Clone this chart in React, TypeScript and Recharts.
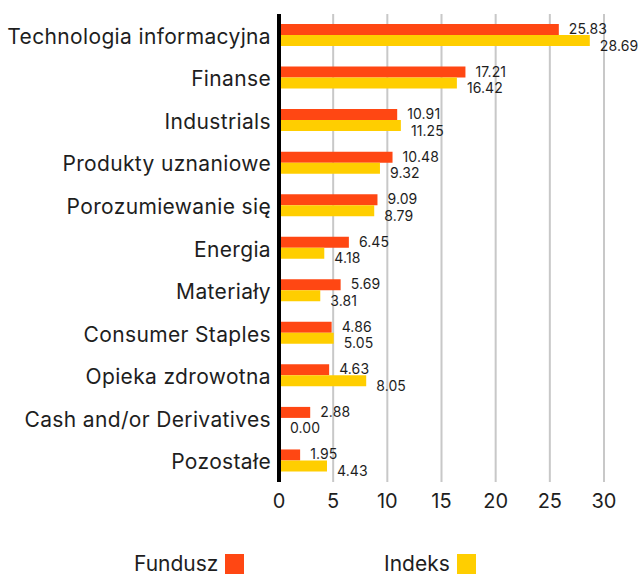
import React from 'react';
import { BarChart, Bar, XAxis, YAxis, CartesianGrid, LabelList, Legend } from 'recharts';

const categories = [
  'Technologia informacyjna',
  'Finanse',
  'Industrials',
  'Produkty uznaniowe',
  'Porozumiewanie się',
  'Energia',
  'Materiały',
  'Consumer Staples',
  'Opieka zdrowotna',
  'Cash and/or Derivatives',
  'Pozostałe',
];
const fundusz = [25.83, 17.21, 10.91, 10.48, 9.09, 6.45, 5.69, 4.86, 4.63, 2.88, 1.95];
const indeks = [28.69, 16.42, 11.25, 9.32, 8.79, 4.18, 3.81, 5.05, 8.05, 0.0, 4.43];
const xTicks = [0, 5, 10, 15, 20, 25, 30];

const ORANGE = '#FF4713';
const YELLOW = '#FFCE00';
const FONT = 'Inter, sans-serif';
const TEXT = '#1e1e1e';

const data = categories.map((name, i) => ({ name, fundusz: fundusz[i], indeks: indeks[i] }));

const makeLabel = (dyOffset: number) => (props: any) => {
  const { x, y, width, height, value } = props;
  return (
    <text
      x={Number(x) + Number(width) + 10}
      y={Number(y) + Number(height) / 2 + dyOffset}
      fontSize={14}
      fontFamily={FONT}
      fill={TEXT}
      letterSpacing={0.1}
      textAnchor="start"
      dominantBaseline="central"
    >
      {Number(value).toFixed(2)}
    </text>
  );
};

const CategoryTick = (props: any) => {
  const { x, y, payload } = props;
  return (
    <text
      x={x}
      y={Number(y) + 8.5}
      textAnchor="end"
      fontSize={21}
      fontFamily={FONT}
      fill={TEXT}
      letterSpacing={0.35}
    >
      {payload.value}
    </text>
  );
};

const legendItems = [
  { label: 'Fundusz', color: ORANGE, left: 134 },
  { label: 'Indeks', color: YELLOW, left: 384 },
];

const renderLegend = () => (
  <div style={{ position: 'relative', width: 639, height: 24 }}>
    {legendItems.map((it) => (
      <div
        key={it.label}
        style={{
          position: 'absolute',
          left: it.left,
          top: 0,
          display: 'flex',
          alignItems: 'flex-end',
          fontFamily: FONT,
          fontSize: 21,
          color: TEXT,
          lineHeight: '21px',
        }}
      >
        <span>{it.label}</span>
        <span style={{ display: 'inline-block', width: 19, height: 20, background: it.color, marginLeft: 7 }} />
      </div>
    ))}
  </div>
);

export default function App() {
  return (
    <div style={{ position: 'absolute', left: 0, top: 0, width: 639, height: 579, background: '#fff' }}>
      <BarChart
        width={639}
        height={579}
        data={data}
        layout="vertical"
        margin={{ top: 14, right: 35, left: 8, bottom: 67 }}
        barGap={0}
      >
        <CartesianGrid horizontal={false} stroke="#c8c8c8" strokeWidth={2} />
        <XAxis
          type="number"
          domain={[0, 30]}
          ticks={xTicks}
          axisLine={false}
          tickLine={false}
          tickMargin={6}
          height={30}
          tick={{ fontSize: 20, fontFamily: FONT, fill: TEXT }}
          interval={0}
        />
        <YAxis
          type="category"
          dataKey="name"
          width={271}
          axisLine={{ stroke: '#000', strokeWidth: 4 }}
          tickLine={false}
          tick={<CategoryTick />}
          interval={0}
        />
        <Legend
          layout="horizontal"
          verticalAlign="middle"
          align="center"
          wrapperStyle={{ top: 553, left: 0, width: 639 }}
          content={renderLegend}
        />
        <Bar dataKey="fundusz" name="Fundusz" fill={ORANGE} barSize={11} isAnimationActive={false}>
          <LabelList dataKey="fundusz" content={makeLabel(-1)} />
        </Bar>
        <Bar dataKey="indeks" name="Indeks" fill={YELLOW} barSize={11} minPointSize={1} isAnimationActive={false}>
          <LabelList dataKey="indeks" content={makeLabel(4.5)} />
        </Bar>
      </BarChart>
    </div>
  );
}
